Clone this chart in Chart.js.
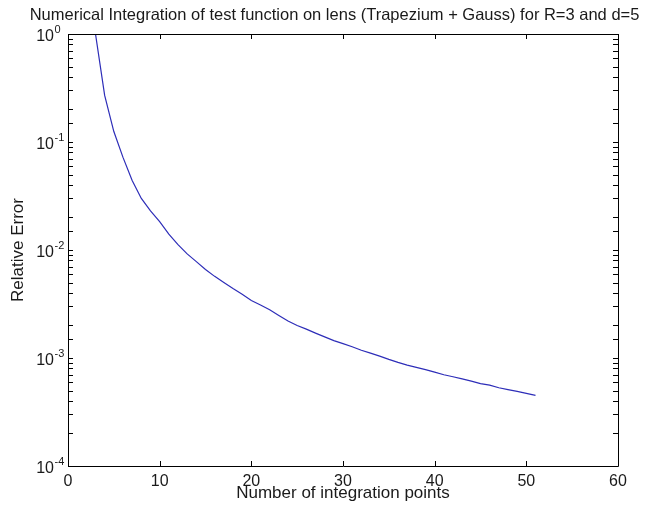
<!DOCTYPE html>
<html>
<head>
<meta charset="utf-8">
<script src="https://cdn.jsdelivr.net/npm/chart.js@4.4.1/dist/chart.umd.min.js"></script>
<style>
  html, body { margin: 0; padding: 0; background: #ffffff; }
  #wrap { width: 646px; height: 512px; position: relative; }
</style>
</head>
<body>
<div id="wrap"><canvas id="c" width="646" height="512"></canvas></div>
<script>
// Number of integration points and the relative error of the lens integral
const points = [3, 4, 5, 6, 7, 8, 9, 10, 11, 12, 13, 14, 15, 16, 17, 18, 19, 20,
  21, 22, 23, 24, 25, 26, 27, 28, 29, 30, 31, 32, 33, 34, 35, 36, 37, 38, 39, 40,
  41, 42, 43, 44, 45, 46, 47, 48, 49, 50, 51];
const relError = [1.0, 0.27, 0.125, 0.072, 0.044, 0.030, 0.023, 0.0183, 0.0140, 0.0112,
  0.0092, 0.0078, 0.0066, 0.0057, 0.0050, 0.0044, 0.0039, 0.0034, 0.0031, 0.0028,
  0.00248, 0.0022, 0.0020, 0.00185, 0.0017, 0.00157, 0.00145, 0.00136, 0.00127,
  0.00118, 0.00111, 0.00104, 0.00097, 0.00091, 0.00086, 0.00082, 0.00078, 0.00074,
  0.00070, 0.00067, 0.00064, 0.00061, 0.00058, 0.00056, 0.00053, 0.00051, 0.00049,
  0.00047, 0.00045];
const xTicks = [0, 10, 20, 30, 40, 50, 60];
const yDecades = [-4, -3, -2, -1, 0];

const titleText = 'Numerical Integration of test function on lens (Trapezium + Gauss) for R=3 and d=5';
const FONT = '"Liberation Sans", Arial, Helvetica, sans-serif';
const TEXT = '#1a1a1a';

// Box around the plot, inward tick marks on all four sides, and the 10^n labels
const boxTicks = {
  id: 'boxTicks',
  afterDraw(chart) {
    const ctx = chart.ctx;
    const a = chart.chartArea;
    const xs = chart.scales.x, ys = chart.scales.y;
    const len = 5;
    ctx.save();
    ctx.strokeStyle = '#000';
    ctx.lineWidth = 1;
    ctx.beginPath();
    xTicks.forEach(v => {
      const px = Math.round(xs.getPixelForValue(v)) + 0.5;
      ctx.moveTo(px, a.bottom); ctx.lineTo(px, a.bottom - len);
      ctx.moveTo(px, a.top); ctx.lineTo(px, a.top + len);
    });
    ys.ticks.forEach(t => {
      const py = Math.round(ys.getPixelForValue(t.value)) + 0.5;
      ctx.moveTo(a.left, py); ctx.lineTo(a.left + len, py);
      ctx.moveTo(a.right, py); ctx.lineTo(a.right - len, py);
    });
    ctx.stroke();
    ctx.beginPath();
    ctx.rect(Math.round(a.left) + 0.5, Math.round(a.top) + 0.5,
             Math.round(a.right - a.left), Math.round(a.bottom - a.top));
    ctx.stroke();

    // decade labels: base "10" with a raised exponent
    ctx.fillStyle = TEXT;
    ctx.textBaseline = 'alphabetic';
    yDecades.forEach(e => {
      const py = ys.getPixelForValue(Math.pow(10, e));
      const baseRight = a.left - 14;
      ctx.font = '16px ' + FONT;
      ctx.textAlign = 'right';
      ctx.fillText('10', baseRight, py + 7);
      ctx.font = '11px ' + FONT;
      ctx.textAlign = 'left';
      ctx.fillText(String(e), baseRight + 0.5, py - 1);
    });
    ctx.restore();
  }
};

// Figure title, placed above the axes
const figTitle = {
  id: 'figTitle',
  afterDraw(chart) {
    const ctx = chart.ctx;
    ctx.save();
    ctx.font = '16.5px ' + FONT;
    ctx.fillStyle = TEXT;
    ctx.textAlign = 'center';
    ctx.textBaseline = 'alphabetic';
    ctx.fillText(titleText, 334.5, 20);
    ctx.restore();
  }
};

new Chart(document.getElementById('c'), {
  type: 'line',
  data: {
    datasets: [{
      data: points.map((p, i) => ({ x: p, y: relError[i] })),
      borderColor: '#2d2db8',
      borderWidth: 1.2,
      pointRadius: 0,
      tension: 0,
      fill: false
    }]
  },
  options: {
    responsive: false,
    animation: false,
    devicePixelRatio: 1,
    layout: { padding: { top: 34, right: 28, left: 0, bottom: 0 } },
    plugins: { legend: { display: false }, tooltip: { enabled: false }, title: { display: false } },
    scales: {
      x: {
        type: 'linear',
        min: 0, max: 60,
        afterBuildTicks(scale) { scale.ticks = xTicks.map(v => ({ value: v })); },
        afterFit(scale) { scale.height = 46; },
        grid: { display: false, drawTicks: false },
        border: { display: false },
        ticks: { color: TEXT, font: { family: FONT, size: 16 }, padding: 6, maxRotation: 0, autoSkip: false },
        title: { display: true, text: 'Number of integration points', color: TEXT,
                 font: { family: FONT, size: 17 }, padding: { top: 0, bottom: 8 } }
      },
      y: {
        type: 'logarithmic',
        min: 1e-4, max: 1,
        afterFit(scale) { scale.width = 68; },
        grid: { display: false, drawTicks: false },
        border: { display: false },
        ticks: { display: true, autoSkip: false, callback() { return ''; } },
        title: { display: true, text: 'Relative Error', color: TEXT,
                 font: { family: FONT, size: 17 }, padding: { top: 8, bottom: 0 } }
      }
    }
  },
  plugins: [boxTicks, figTitle]
});
</script>
</body>
</html>
